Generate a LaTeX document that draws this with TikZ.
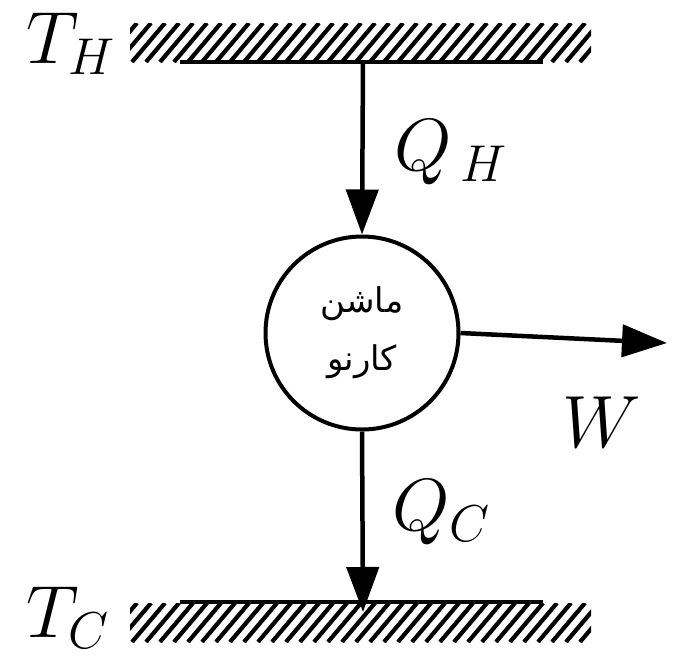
\documentclass[tikz,border=0pt]{standalone}
\usepackage{fix-cm}
\usepackage{fontspec}
\newfontfamily\arabicfont[Script=Arabic]{DejaVu Sans}
\TeXXeTstate=1
\usetikzlibrary{arrows.meta}
\tikzset{
  flow/.style={-{Triangle[length=45pt,width=32pt]},line width=4.5pt},
  wall/.style={line width=3.3pt},
  hatchln/.style={line width=4.2pt},
  engine/.style={circle,draw,line width=4pt,minimum size=193pt,inner sep=0pt,
    align=center,font=\arabicfont\fontsize{34}{58}\selectfont},
  lbl/.style={anchor=base west,inner sep=0pt,font=\fontsize{74}{80}\selectfont},
}
\begin{document}
\begin{tikzpicture}[x=1pt,y=-1pt]
  \useasboundingbox (0,0) rectangle (678,657);
  % reservoirs
  \foreach \yt in {23,603}{
    \begin{scope}
      \clip (130,\yt) rectangle (591,\yt+39);
      \foreach \s in {90,104,...,600}{\draw[hatchln] (\s,\yt+39)--(\s+33,\yt);}
    \end{scope}
  }
  \draw[wall] (180,62)--(543,62);
  \draw[wall] (180,602)--(543,602);
  \coordinate (hot) at (363,62);
  \coordinate (cold) at (363,612);
  \coordinate (work) at (667,343);
  \node[engine] (eng) at (362,333) {\beginR ماشن\endR\\\beginR کارنو\endR};
  \draw[flow] (hot)--(eng.north);
  \draw[flow] (eng.south)--(cold);
  \draw[flow] (eng.east)--(work);
  \node[lbl] (th) at (26,63) {$T_H$};
  \node[lbl] (tc) at (26,637) {$T_C$};
  \node[lbl] (qh) at (394,170) {$Q_{\,H}$};
  \node[lbl] (qc) at (392,530) {$Q_C$};
  \node[lbl] (w) at (562,447) {$W$};
\end{tikzpicture}
\end{document}
